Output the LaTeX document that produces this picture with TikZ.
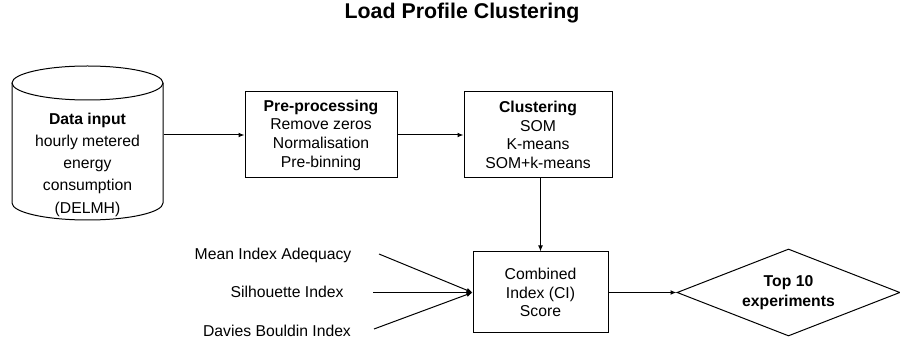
\documentclass[tikz,border=0pt]{standalone}
\usepackage{fontspec}
\setmainfont{Liberation Sans}
\usetikzlibrary{arrows.meta,shapes.geometric}

\tikzset{every picture/.style={line width=0.75pt}}
\tikzset{
  procbox/.style={draw,rectangle,inner sep=0.75pt,align=center,font=\fontsize{11.8}{14}\selectfont},
  flowarrow/.style={-{Latex[length=4.5pt,width=3.6pt]}},
  scorelbl/.style={inner sep=0.75pt,font=\fontsize{11.8}{14}\selectfont}
}

\begin{document}
\begin{tikzpicture}[x=0.75pt,y=0.75pt,yscale=-1,xscale=1]
	%set diagram window
	\useasboundingbox (0,0) rectangle (900,338);
	% Title
	\node (title) at (462,13) [inner sep=0.75pt,font=\fontsize{16}{19}\bfseries\selectfont] {Load Profile Clustering};
	%Cylinder [id:datain]
	\draw (87.5,83) ellipse [x radius=75.5,y radius=17];
	\draw (12,83) -- (12,203) arc [start angle=180,end angle=0,x radius=75.5,y radius=17] -- (163,83);
	% Text Node
	\node (datain) at (87.5,164.5) [inner sep=0pt,minimum width=113.25pt,align=center,font=\fontsize{11.8}{16.7}\selectfont] {\textbf{Data input}\\hourly metered\\energy\\consumption\\(DELMH)};
	% Boxes
	\node (prep) at (321,135) [procbox,minimum width=114pt,minimum height=64.5pt] {\textbf{Pre-processing}\\Remove zeros\\Normalisation\\Pre-binning};
	\node (clust) at (538,135) [procbox,minimum width=111pt,minimum height=64.5pt] {\textbf{Clustering}\\SOM\\K-means\\SOM+k-means};
	\node (comb) at (540.5,292.5) [procbox,minimum width=101.25pt,minimum height=60.75pt] {Combined\\Index (CI)\\Score};
	% Diamond
	\node (top) at (788.5,292.5) [draw,diamond,aspect=2.56,inner sep=0pt,minimum width=167.25pt,minimum height=65.25pt,align=center,font=\fontsize{11.8}{15}\bfseries\selectfont] {Top 10\\experiments};
	% Score inputs
	\node (mia) at (273,255) [scorelbl] {Mean Index Adequacy};
	\node (sil) at (287,292) [scorelbl] {Silhouette Index};
	\node (dbi) at (277,331) [scorelbl] {Davies Bouldin Index};
	\coordinate (mia-in) at (379,254);
	\coordinate (sil-in) at (373,292.5);
	\coordinate (dbi-in) at (374,329);
	% Connectors
	\draw [flowarrow] (datain.east |- prep.west) -- (prep.west);
	\draw [flowarrow] (prep.east) -- (clust.west);
	\draw [flowarrow] (comb.north |- clust.south) -- (comb.north);
	\draw [flowarrow] (mia-in) -- (comb.west);
	\draw [flowarrow] (sil-in) -- (comb.west);
	\draw [flowarrow] (dbi-in) -- (comb.west);
	\draw [flowarrow] (comb.east) -- (top.west);
\end{tikzpicture}
\end{document}
